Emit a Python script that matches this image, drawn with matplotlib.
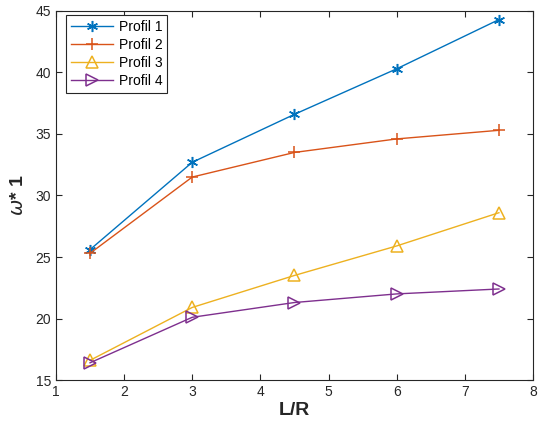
import matplotlib
matplotlib.use("Agg")
import matplotlib.pyplot as plt

plt.rcParams['font.family'] = ['Liberation Sans', 'DejaVu Sans']

ratio = [1.5, 3, 4.5, 6, 7.5]
profil1 = [25.6, 32.7, 36.6, 40.3, 44.3]
profil2 = [25.3, 31.5, 33.5, 34.6, 35.3]
profil3 = [16.6, 20.9, 23.5, 25.9, 28.6]
profil4 = [16.4, 20.1, 21.3, 22.0, 22.4]
names = ['Profil 1', 'Profil 2', 'Profil 3', 'Profil 4']

colors = ['#0072BD', '#D95319', '#EDB120', '#7E2F8E']
markers = ['*', '+', '^', '>']

fig = plt.figure(figsize=(5.38, 4.34), dpi=100)
ax = fig.add_axes([0.104, 0.1244, 0.8867, 0.8503])

for ys, name, c, m in zip([profil1, profil2, profil3, profil4], names, colors, markers):
    if m == '*':
        ax.plot(ratio, ys, color=c, lw=1.0, marker=(6, 2, 0), ms=8, mew=1.1, label=name)
    elif m == '+':
        ax.plot(ratio, ys, color=c, lw=1.0, marker='+', ms=9, mew=1.1, label=name)
    else:
        ax.plot(ratio, ys, color=c, lw=1.0, marker=m, ms=9, mew=1.1,
                mfc='none', label=name)

ax.set_xlim(1, 8)
ax.set_ylim(15, 45)
ax.set_xticks(range(1, 9))
ax.set_yticks(range(15, 46, 5))
ax.tick_params(direction='in', top=True, right=True, labelsize=10,
               length=4, width=0.8, colors='#262626', labelcolor='#262626')
for s in ax.spines.values():
    s.set_color('#262626')
    s.set_linewidth(0.8)

ax.set_xlabel('L/R', fontsize=14, fontweight='bold', color='#262626', labelpad=2)
ax.set_ylabel(r'$\omega$* 1', fontsize=14, fontweight='bold', color='#262626', labelpad=6)

leg = ax.legend(loc='upper left', fontsize=10, frameon=True, fancybox=False,
                edgecolor='#262626', framealpha=1, handlelength=3.0,
                borderpad=0.35, labelspacing=0.3, handletextpad=0.4,
                borderaxespad=0.0, bbox_to_anchor=(0.022, 0.99))
leg.get_frame().set_linewidth(0.8)

fig.savefig('out.png', dpi=100)
